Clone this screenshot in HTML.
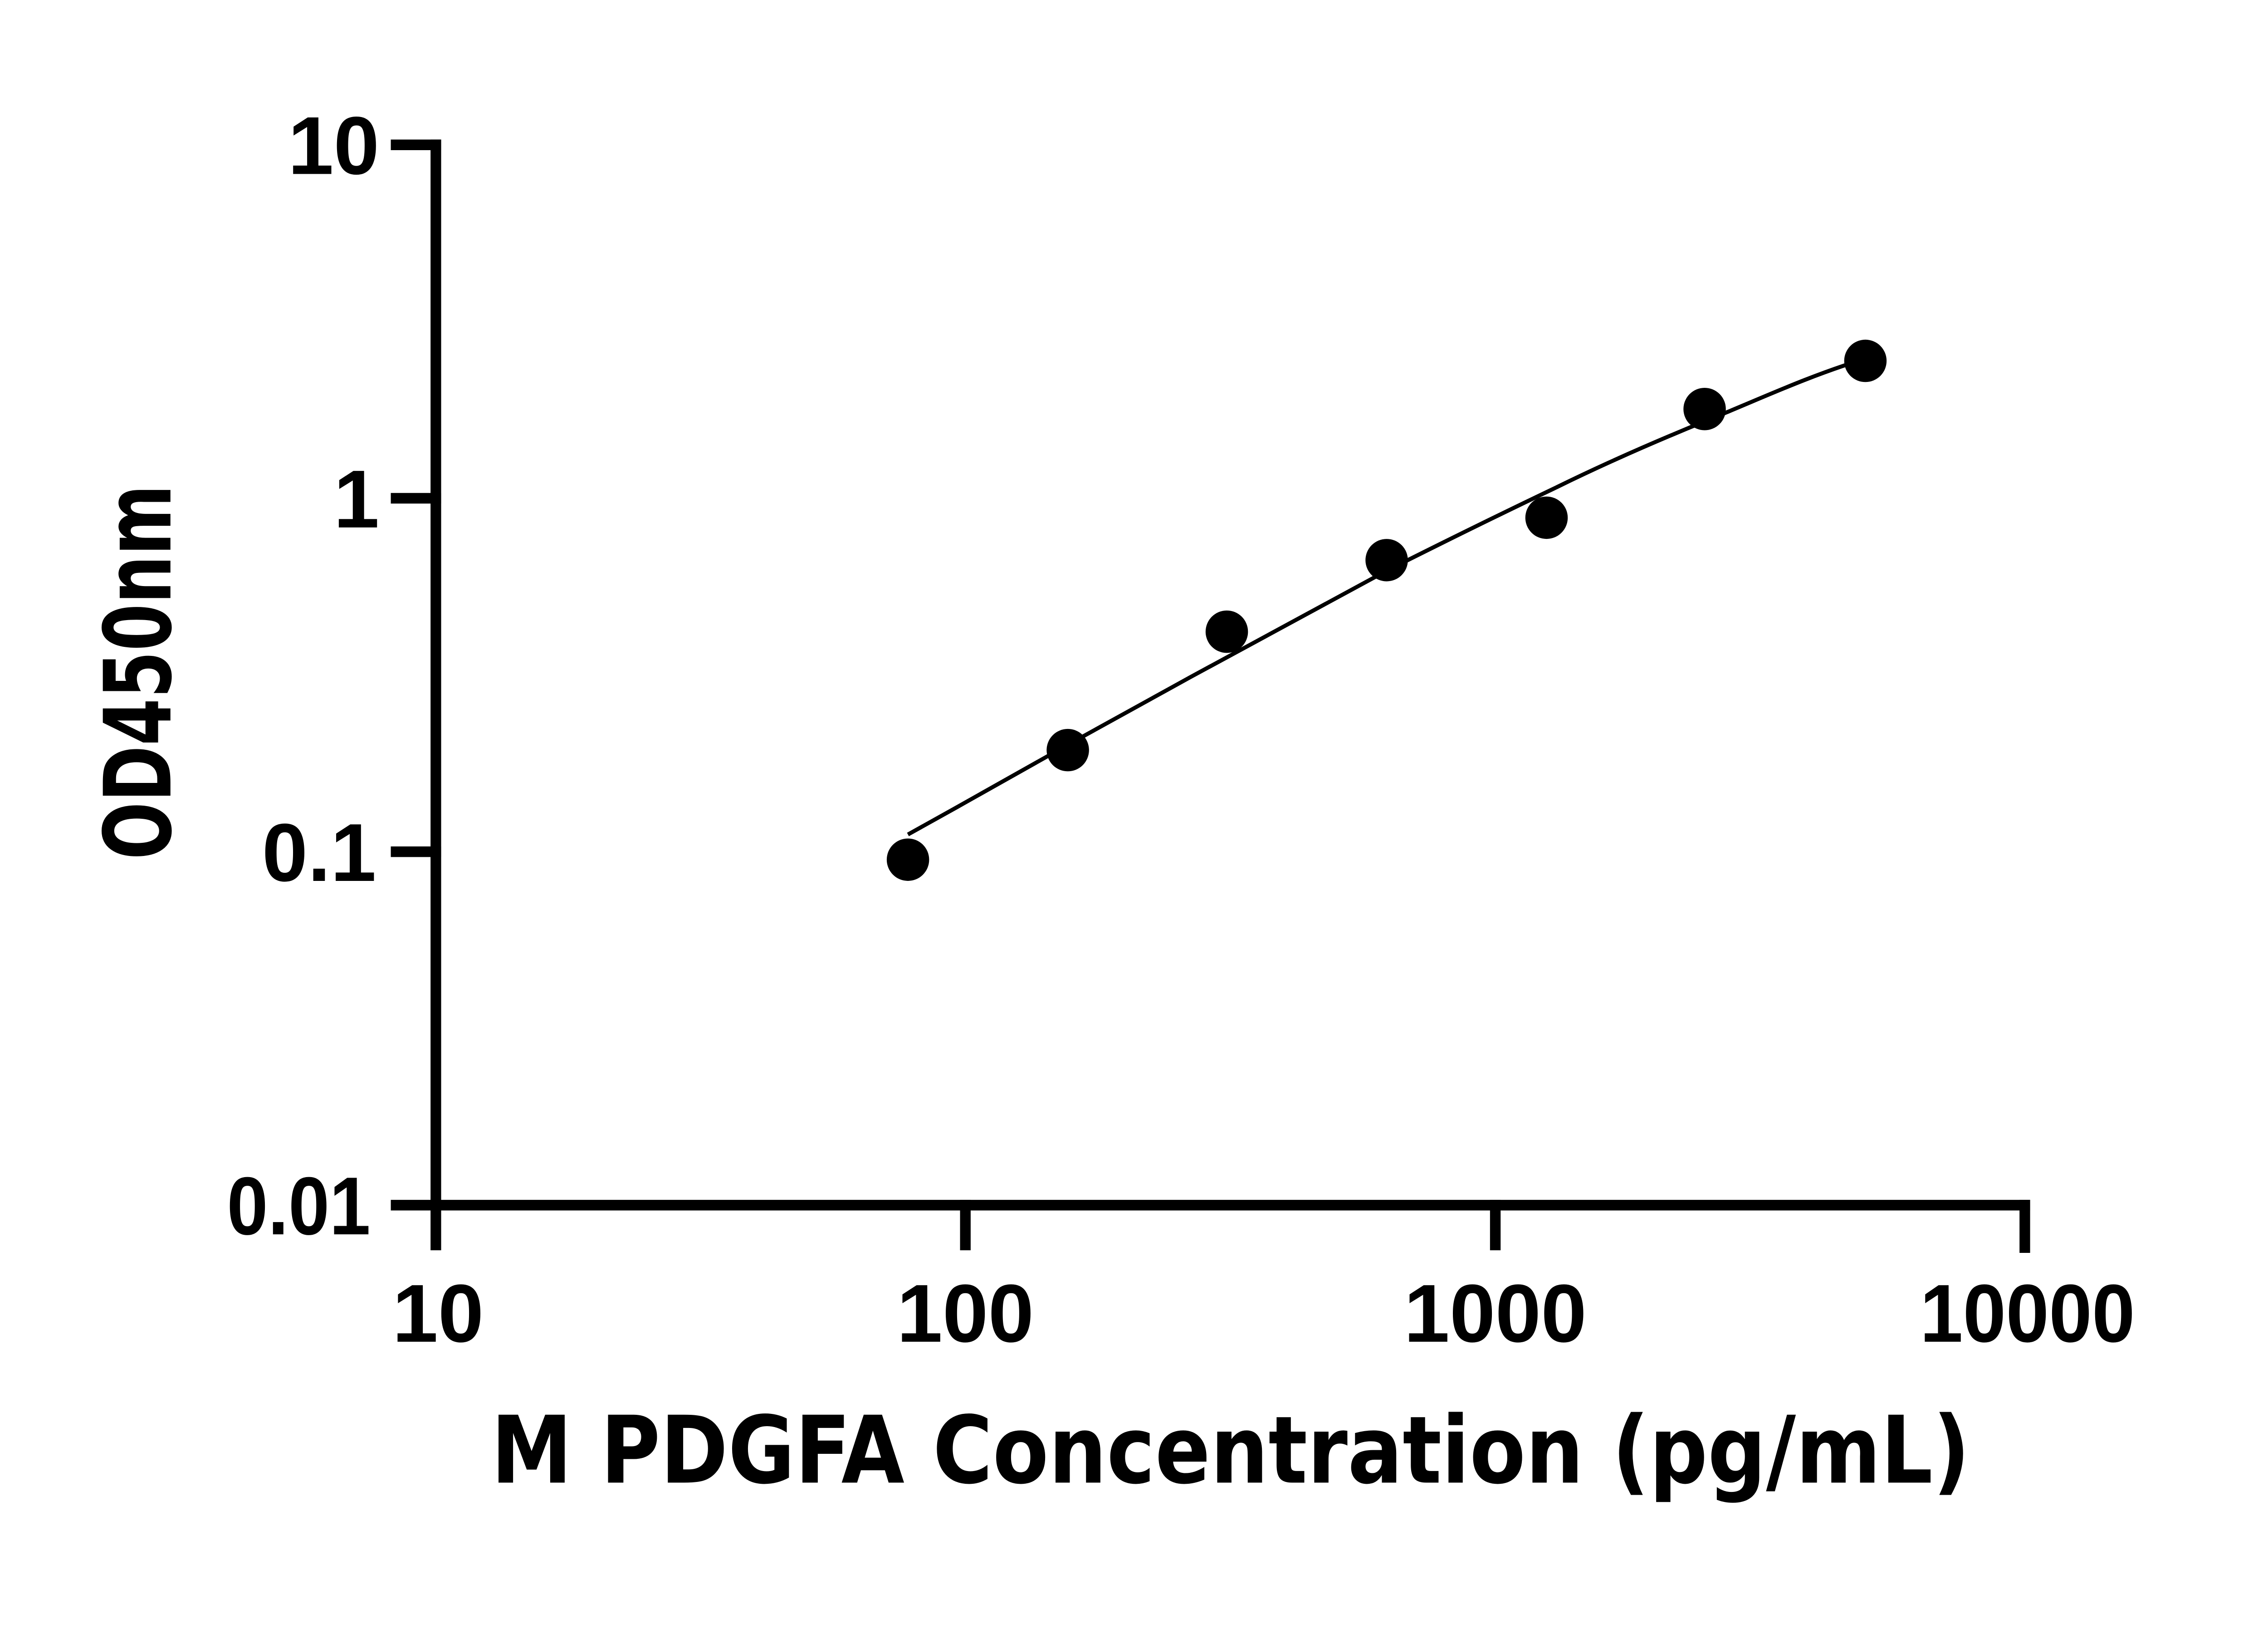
<!DOCTYPE html>
<html><head><meta charset="utf-8"><style>
html,body{margin:0;padding:0;background:#fff;}
svg{display:block;}
</style></head><body>
<svg width="5142" height="3600" viewBox="0 0 5142 3600" xmlns="http://www.w3.org/2000/svg">
<rect width="5142" height="3600" fill="#fff"/>
<g transform="matrix(0.9736,0,0,0.974,-3,-8)">
<g stroke="#000" fill="none" stroke-linecap="butt">
<line x1="990" y1="324" x2="990" y2="2838" stroke-width="24"/>
<line x1="978" y1="2736" x2="4600" y2="2736" stroke-width="24"/>
<line x1="888" y1="336" x2="1002" y2="336" stroke-width="24"/>
<line x1="888" y1="1136" x2="1002" y2="1136" stroke-width="24"/>
<line x1="888" y1="1936" x2="1002" y2="1936" stroke-width="24"/>
<line x1="888" y1="2736" x2="1002" y2="2736" stroke-width="24"/>
<line x1="2189" y1="2724" x2="2189" y2="2838" stroke-width="24"/>
<line x1="3389" y1="2724" x2="3389" y2="2838" stroke-width="24"/>
<line x1="4588" y1="2724" x2="4588" y2="2844" stroke-width="24"/>
<path d="M2059,1897 C2180,1830 2300,1762 2421,1694 C2520,1640 2610,1590 2700,1540 C2850,1458 3000,1378 3143,1300 C3270,1236 3400,1172 3530,1110 C3640,1056 3750,1008 3863,962 C3980,915 4090,862 4227,820" stroke-width="9"/>
</g>
<g fill="#000">
<circle cx="2059" cy="1954" r="48"/>
<circle cx="2421" cy="1706" r="48"/>
<circle cx="2781" cy="1438" r="48"/>
<circle cx="3143" cy="1276" r="48"/>
<circle cx="3505" cy="1180" r="48"/>
<circle cx="3863" cy="934" r="48"/>
<circle cx="4227" cy="825" r="48"/>
</g>
<g font-family="'Liberation Sans', Arial, sans-serif" font-weight="bold" font-size="186" fill="#000">
<text x="862" y="402" text-anchor="end">10</text>
<text x="862" y="1202" text-anchor="end">1</text>
<text x="855" y="2002" text-anchor="end">0.1</text>
<text x="842" y="2802" text-anchor="end" textLength="325" lengthAdjust="spacingAndGlyphs">0.01</text>
<text x="995" y="3045" text-anchor="middle">10</text>
<text x="2189" y="3045" text-anchor="middle">100</text>
<text x="3389" y="3045" text-anchor="middle">1000</text>
<text x="4594" y="3045" text-anchor="middle" textLength="487" lengthAdjust="spacingAndGlyphs">10000</text>
</g>
<text x="1115" y="3364" font-family="'DejaVu Sans', sans-serif" font-weight="bold" font-size="211" textLength="3349" lengthAdjust="spacingAndGlyphs" fill="#000">M PDGFA Concentration (pg/mL)</text>
<text transform="translate(389,1954) rotate(-90)" x="0" y="0" font-family="'DejaVu Sans', sans-serif" font-weight="bold" font-size="210" textLength="849" lengthAdjust="spacingAndGlyphs" fill="#000">OD450nm</text>
</g>
</svg>
</body></html>
